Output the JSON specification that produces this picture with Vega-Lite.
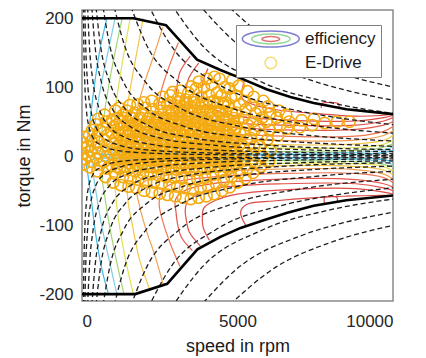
{
  "$schema": "https://vega.github.io/schema/vega-lite/v6.json",
  "width": 311,
  "height": 291,
  "autosize": {"type": "none"},
  "padding": {"left": 82, "top": 10, "right": 33, "bottom": 57},
  "background": "white",
  "config": {
    "view": {"stroke": "#8a8a8a", "strokeWidth": 1.5},
    "axis": {"domain": false, "ticks": false, "grid": false, "labelFont": "Liberation Sans", "labelFontSize": 17, "labelColor": "#262626", "titleFont": "Liberation Sans", "titleFontSize": 18, "titleFontWeight": "normal", "titleColor": "#1a1a1a"},
    "legend": {"labelFont": "Liberation Sans"}
  },
  "resolve": {"scale": {"stroke": "independent"}},
  "datasets": {
    "env": [
      {"s":"u","n":0,"t":200},{"s":"u","n":1650,"t":200},{"s":"u","n":2700,"t":190},{"s":"u","n":3700,"t":140},{"s":"u","n":4450,"t":125},{"s":"u","n":5000,"t":115},{"s":"u","n":5935,"t":97},{"s":"u","n":6700,"t":86},{"s":"u","n":7450,"t":77},{"s":"u","n":8500,"t":68},{"s":"u","n":10000,"t":61},
      {"s":"d","n":0,"t":-200},{"s":"d","n":1710,"t":-200},{"s":"d","n":2740,"t":-185},{"s":"d","n":3710,"t":-135},{"s":"d","n":4450,"t":-117},{"s":"d","n":5100,"t":-104},{"s":"d","n":5840,"t":-93},{"s":"d","n":6600,"t":-82},{"s":"d","n":7450,"t":-72},{"s":"d","n":8500,"t":-64},{"s":"d","n":10000,"t":-57}
    ],
    "hyp": [
      {"p":"a1","n":40,"t":239},{"p":"a1","n":60,"t":159},{"p":"a1","n":90,"t":106},{"p":"a1","n":140,"t":68},{"p":"a1","n":220,"t":43},{"p":"a1","n":350,"t":27},{"p":"a1","n":600,"t":16},{"p":"a1","n":1000,"t":9.5},{"p":"a1","n":2000,"t":4.8},{"p":"a1","n":4000,"t":2.4},{"p":"a1","n":7000,"t":1.4},{"p":"a1","n":10000,"t":0.95},
      {"p":"a2","n":80,"t":239},{"p":"a2","n":120,"t":159},{"p":"a2","n":180,"t":106},{"p":"a2","n":280,"t":68},{"p":"a2","n":440,"t":43},{"p":"a2","n":700,"t":27},{"p":"a2","n":1200,"t":16},{"p":"a2","n":2000,"t":9.5},{"p":"a2","n":4000,"t":4.8},{"p":"a2","n":7000,"t":2.7},{"p":"a2","n":10000,"t":1.9},
      {"p":"a4","n":160,"t":239},{"p":"a4","n":240,"t":159},{"p":"a4","n":360,"t":106},{"p":"a4","n":560,"t":68},{"p":"a4","n":880,"t":43},{"p":"a4","n":1400,"t":27},{"p":"a4","n":2400,"t":16},{"p":"a4","n":4000,"t":9.5},{"p":"a4","n":7000,"t":5.5},{"p":"a4","n":10000,"t":3.8},
      {"p":"a7","n":280,"t":239},{"p":"a7","n":420,"t":159},{"p":"a7","n":630,"t":106},{"p":"a7","n":980,"t":68},{"p":"a7","n":1550,"t":43},{"p":"a7","n":2450,"t":27},{"p":"a7","n":4200,"t":16},{"p":"a7","n":7000,"t":9.5},{"p":"a7","n":10000,"t":6.7},
      {"p":"a10","n":400,"t":239},{"p":"a10","n":600,"t":159},{"p":"a10","n":900,"t":106},{"p":"a10","n":1400,"t":68},{"p":"a10","n":2200,"t":43},{"p":"a10","n":3500,"t":27},{"p":"a10","n":6000,"t":16},{"p":"a10","n":10000,"t":9.5},
      {"p":"a15","n":600,"t":239},{"p":"a15","n":900,"t":159},{"p":"a15","n":1350,"t":106},{"p":"a15","n":2100,"t":68},{"p":"a15","n":3300,"t":43},{"p":"a15","n":5300,"t":27},{"p":"a15","n":7500,"t":19.1},{"p":"a15","n":10000,"t":14.3},
      {"p":"a23","n":920,"t":239},{"p":"a23","n":1380,"t":159},{"p":"a23","n":2070,"t":106},{"p":"a23","n":3200,"t":68.6},{"p":"a23","n":5000,"t":43.9},{"p":"a23","n":7500,"t":29.3},{"p":"a23","n":10000,"t":22},
      {"p":"a35","n":1400,"t":239},{"p":"a35","n":2100,"t":159},{"p":"a35","n":3150,"t":106},{"p":"a35","n":4900,"t":68.2},{"p":"a35","n":7000,"t":47.7},{"p":"a35","n":10000,"t":33.4},
      {"p":"a48","n":1900,"t":241},{"p":"a48","n":2900,"t":158},{"p":"a48","n":4300,"t":106.6},{"p":"a48","n":6500,"t":70.5},{"p":"a48","n":8000,"t":57.3},{"p":"a48","n":10000,"t":45.8},
      {"p":"a65","n":2600,"t":239},{"p":"a65","n":3900,"t":159},{"p":"a65","n":5800,"t":107},{"p":"a65","n":8000,"t":77.6},{"p":"a65","n":10000,"t":62.1},
      {"p":"a85","n":3400,"t":239},{"p":"a85","n":5100,"t":159},{"p":"a85","n":7000,"t":116},{"p":"a85","n":8500,"t":95.5},{"p":"a85","n":10000,"t":81.2},
      {"p":"a105","n":4200,"t":239},{"p":"a105","n":6300,"t":159},{"p":"a105","n":8000,"t":125},{"p":"a105","n":10000,"t":100.3},
      {"p":"b1","n":40,"t":-239},{"p":"b1","n":60,"t":-159},{"p":"b1","n":90,"t":-106},{"p":"b1","n":140,"t":-68},{"p":"b1","n":220,"t":-43},{"p":"b1","n":350,"t":-27},{"p":"b1","n":600,"t":-16},{"p":"b1","n":1000,"t":-9.5},{"p":"b1","n":2000,"t":-4.8},{"p":"b1","n":4000,"t":-2.4},{"p":"b1","n":7000,"t":-1.4},{"p":"b1","n":10000,"t":-0.95},
      {"p":"b2","n":80,"t":-239},{"p":"b2","n":120,"t":-159},{"p":"b2","n":180,"t":-106},{"p":"b2","n":280,"t":-68},{"p":"b2","n":440,"t":-43},{"p":"b2","n":700,"t":-27},{"p":"b2","n":1200,"t":-16},{"p":"b2","n":2000,"t":-9.5},{"p":"b2","n":4000,"t":-4.8},{"p":"b2","n":7000,"t":-2.7},{"p":"b2","n":10000,"t":-1.9},
      {"p":"b4","n":160,"t":-239},{"p":"b4","n":240,"t":-159},{"p":"b4","n":360,"t":-106},{"p":"b4","n":560,"t":-68},{"p":"b4","n":880,"t":-43},{"p":"b4","n":1400,"t":-27},{"p":"b4","n":2400,"t":-16},{"p":"b4","n":4000,"t":-9.5},{"p":"b4","n":7000,"t":-5.5},{"p":"b4","n":10000,"t":-3.8},
      {"p":"b7","n":280,"t":-239},{"p":"b7","n":420,"t":-159},{"p":"b7","n":630,"t":-106},{"p":"b7","n":980,"t":-68},{"p":"b7","n":1550,"t":-43},{"p":"b7","n":2450,"t":-27},{"p":"b7","n":4200,"t":-16},{"p":"b7","n":7000,"t":-9.5},{"p":"b7","n":10000,"t":-6.7},
      {"p":"b10","n":400,"t":-239},{"p":"b10","n":600,"t":-159},{"p":"b10","n":900,"t":-106},{"p":"b10","n":1400,"t":-68},{"p":"b10","n":2200,"t":-43},{"p":"b10","n":3500,"t":-27},{"p":"b10","n":6000,"t":-16},{"p":"b10","n":10000,"t":-9.5},
      {"p":"b15","n":600,"t":-239},{"p":"b15","n":900,"t":-159},{"p":"b15","n":1350,"t":-106},{"p":"b15","n":2100,"t":-68},{"p":"b15","n":3300,"t":-43},{"p":"b15","n":5300,"t":-27},{"p":"b15","n":7500,"t":-19.1},{"p":"b15","n":10000,"t":-14.3},
      {"p":"b23","n":920,"t":-239},{"p":"b23","n":1380,"t":-159},{"p":"b23","n":2070,"t":-106},{"p":"b23","n":3200,"t":-68.6},{"p":"b23","n":5000,"t":-43.9},{"p":"b23","n":7500,"t":-29.3},{"p":"b23","n":10000,"t":-22},
      {"p":"b35","n":1400,"t":-239},{"p":"b35","n":2100,"t":-159},{"p":"b35","n":3150,"t":-106},{"p":"b35","n":4900,"t":-68.2},{"p":"b35","n":7000,"t":-47.7},{"p":"b35","n":10000,"t":-33.4},
      {"p":"b48","n":1900,"t":-241},{"p":"b48","n":2900,"t":-158},{"p":"b48","n":4300,"t":-106.6},{"p":"b48","n":6500,"t":-70.5},{"p":"b48","n":8000,"t":-57.3},{"p":"b48","n":10000,"t":-45.8},
      {"p":"b65","n":2600,"t":-239},{"p":"b65","n":3900,"t":-159},{"p":"b65","n":5800,"t":-107},{"p":"b65","n":8000,"t":-77.6},{"p":"b65","n":10000,"t":-62.1},
      {"p":"b85","n":3400,"t":-239},{"p":"b85","n":5100,"t":-159},{"p":"b85","n":7000,"t":-116},{"p":"b85","n":8500,"t":-95.5},{"p":"b85","n":10000,"t":-81.2},
      {"p":"b105","n":4200,"t":-239},{"p":"b105","n":6300,"t":-159},{"p":"b105","n":8000,"t":-125},{"p":"b105","n":10000,"t":-100.3}
    ],
    "con": [
      {"c":"1u","l":1,"n":800,"t":200},{"c":"1u","l":1,"n":600,"t":160},{"c":"1u","l":1,"n":420,"t":110},{"c":"1u","l":1,"n":280,"t":60},{"c":"1u","l":1,"n":180,"t":25},{"c":"1u","l":1,"n":150,"t":10},{"c":"1u","l":1,"n":400,"t":4},{"c":"1u","l":1,"n":1500,"t":2.5},{"c":"1u","l":1,"n":5000,"t":2},{"c":"1u","l":1,"n":8000,"t":2.5},{"c":"1u","l":1,"n":9500,"t":4},{"c":"1u","l":1,"n":10000,"t":8},
      {"c":"1d","l":1,"n":850,"t":-200},{"c":"1d","l":1,"n":620,"t":-160},{"c":"1d","l":1,"n":430,"t":-110},{"c":"1d","l":1,"n":290,"t":-60},{"c":"1d","l":1,"n":185,"t":-25},{"c":"1d","l":1,"n":150,"t":-10},{"c":"1d","l":1,"n":400,"t":-4},{"c":"1d","l":1,"n":1500,"t":-2.5},{"c":"1d","l":1,"n":5000,"t":-2},{"c":"1d","l":1,"n":8000,"t":-2.5},{"c":"1d","l":1,"n":9500,"t":-4},{"c":"1d","l":1,"n":10000,"t":-8},
      {"c":"2u","l":2,"n":1065,"t":200},{"c":"2u","l":2,"n":830,"t":150},{"c":"2u","l":2,"n":600,"t":100},{"c":"2u","l":2,"n":440,"t":55},{"c":"2u","l":2,"n":350,"t":25},{"c":"2u","l":2,"n":330,"t":12},{"c":"2u","l":2,"n":700,"t":7},{"c":"2u","l":2,"n":3000,"t":5},{"c":"2u","l":2,"n":8000,"t":5},{"c":"2u","l":2,"n":9500,"t":7.5},{"c":"2u","l":2,"n":10000,"t":13},
      {"c":"2d","l":2,"n":1120,"t":-200},{"c":"2d","l":2,"n":870,"t":-150},{"c":"2d","l":2,"n":630,"t":-100},{"c":"2d","l":2,"n":460,"t":-55},{"c":"2d","l":2,"n":360,"t":-25},{"c":"2d","l":2,"n":340,"t":-12},{"c":"2d","l":2,"n":700,"t":-7},{"c":"2d","l":2,"n":3000,"t":-4.5},{"c":"2d","l":2,"n":8000,"t":-4.5},{"c":"2d","l":2,"n":9500,"t":-7},{"c":"2d","l":2,"n":10000,"t":-12},
      {"c":"3u","l":3,"n":1290,"t":200},{"c":"3u","l":3,"n":1060,"t":150},{"c":"3u","l":3,"n":850,"t":100},{"c":"3u","l":3,"n":700,"t":55},{"c":"3u","l":3,"n":640,"t":30},{"c":"3u","l":3,"n":750,"t":16},{"c":"3u","l":3,"n":1500,"t":10},{"c":"3u","l":3,"n":4000,"t":7.5},{"c":"3u","l":3,"n":8000,"t":7.5},{"c":"3u","l":3,"n":9500,"t":11},{"c":"3u","l":3,"n":10000,"t":18},
      {"c":"3d","l":3,"n":1350,"t":-200},{"c":"3d","l":3,"n":1100,"t":-150},{"c":"3d","l":3,"n":880,"t":-100},{"c":"3d","l":3,"n":720,"t":-55},{"c":"3d","l":3,"n":650,"t":-30},{"c":"3d","l":3,"n":760,"t":-15},{"c":"3d","l":3,"n":1500,"t":-9},{"c":"3d","l":3,"n":4000,"t":-7},{"c":"3d","l":3,"n":8000,"t":-7},{"c":"3d","l":3,"n":9500,"t":-10},{"c":"3d","l":3,"n":10000,"t":-16},
      {"c":"4u","l":4,"n":1550,"t":200},{"c":"4u","l":4,"n":1350,"t":150},{"c":"4u","l":4,"n":1170,"t":100},{"c":"4u","l":4,"n":1060,"t":60},{"c":"4u","l":4,"n":1060,"t":38},{"c":"4u","l":4,"n":1300,"t":24},{"c":"4u","l":4,"n":2500,"t":15},{"c":"4u","l":4,"n":6000,"t":12},{"c":"4u","l":4,"n":8500,"t":12},{"c":"4u","l":4,"n":9600,"t":16},{"c":"4u","l":4,"n":10000,"t":23},
      {"c":"4d","l":4,"n":1650,"t":-200},{"c":"4d","l":4,"n":1400,"t":-150},{"c":"4d","l":4,"n":1200,"t":-100},{"c":"4d","l":4,"n":1090,"t":-60},{"c":"4d","l":4,"n":1080,"t":-36},{"c":"4d","l":4,"n":1320,"t":-22},{"c":"4d","l":4,"n":2500,"t":-13},{"c":"4d","l":4,"n":6000,"t":-10.5},{"c":"4d","l":4,"n":8500,"t":-10.5},{"c":"4d","l":4,"n":9600,"t":-14},{"c":"4d","l":4,"n":10000,"t":-21},
      {"c":"5u","l":5,"n":1970,"t":200},{"c":"5u","l":5,"n":1760,"t":150},{"c":"5u","l":5,"n":1560,"t":100},{"c":"5u","l":5,"n":1440,"t":65},{"c":"5u","l":5,"n":1460,"t":44},{"c":"5u","l":5,"n":1850,"t":30},{"c":"5u","l":5,"n":3000,"t":21},{"c":"5u","l":5,"n":6000,"t":17},{"c":"5u","l":5,"n":8500,"t":17},{"c":"5u","l":5,"n":9700,"t":23},{"c":"5u","l":5,"n":10000,"t":30},
      {"c":"5d","l":5,"n":2190,"t":-195},{"c":"5d","l":5,"n":1850,"t":-150},{"c":"5d","l":5,"n":1620,"t":-100},{"c":"5d","l":5,"n":1480,"t":-65},{"c":"5d","l":5,"n":1490,"t":-42},{"c":"5d","l":5,"n":1880,"t":-27},{"c":"5d","l":5,"n":3000,"t":-17},{"c":"5d","l":5,"n":6000,"t":-14},{"c":"5d","l":5,"n":8500,"t":-14},{"c":"5d","l":5,"n":9700,"t":-20},{"c":"5d","l":5,"n":10000,"t":-27},
      {"c":"6u","l":6,"n":2600,"t":187},{"c":"6u","l":6,"n":2300,"t":145},{"c":"6u","l":6,"n":2000,"t":105},{"c":"6u","l":6,"n":1800,"t":72},{"c":"6u","l":6,"n":1750,"t":52},{"c":"6u","l":6,"n":2050,"t":38},{"c":"6u","l":6,"n":3000,"t":30},{"c":"6u","l":6,"n":6000,"t":23},{"c":"6u","l":6,"n":8700,"t":23},{"c":"6u","l":6,"n":9700,"t":30},{"c":"6u","l":6,"n":10000,"t":37},
      {"c":"6d","l":6,"n":2610,"t":-186},{"c":"6d","l":6,"n":2350,"t":-145},{"c":"6d","l":6,"n":2050,"t":-105},{"c":"6d","l":6,"n":1850,"t":-72},{"c":"6d","l":6,"n":1780,"t":-50},{"c":"6d","l":6,"n":2080,"t":-35},{"c":"6d","l":6,"n":3000,"t":-26},{"c":"6d","l":6,"n":6000,"t":-19},{"c":"6d","l":6,"n":8700,"t":-19},{"c":"6d","l":6,"n":9700,"t":-26},{"c":"6d","l":6,"n":10000,"t":-33},
      {"c":"7u","l":7,"n":3100,"t":165},{"c":"7u","l":7,"n":2800,"t":130},{"c":"7u","l":7,"n":2550,"t":95},{"c":"7u","l":7,"n":2450,"t":68},{"c":"7u","l":7,"n":2550,"t":52},{"c":"7u","l":7,"n":3000,"t":42},{"c":"7u","l":7,"n":4000,"t":35},{"c":"7u","l":7,"n":6500,"t":29},{"c":"7u","l":7,"n":8800,"t":29},{"c":"7u","l":7,"n":9700,"t":36},{"c":"7u","l":7,"n":10000,"t":43},
      {"c":"7d","l":7,"n":3150,"t":-160},{"c":"7d","l":7,"n":2850,"t":-128},{"c":"7d","l":7,"n":2600,"t":-95},{"c":"7d","l":7,"n":2480,"t":-68},{"c":"7d","l":7,"n":2580,"t":-50},{"c":"7d","l":7,"n":3000,"t":-38},{"c":"7d","l":7,"n":4000,"t":-31},{"c":"7d","l":7,"n":6500,"t":-25},{"c":"7d","l":7,"n":8800,"t":-25},{"c":"7d","l":7,"n":9700,"t":-31},{"c":"7d","l":7,"n":10000,"t":-38},
      {"c":"8u","l":8,"n":3480,"t":145},{"c":"8u","l":8,"n":3150,"t":122},{"c":"8u","l":8,"n":3050,"t":100},{"c":"8u","l":8,"n":3000,"t":80},{"c":"8u","l":8,"n":2980,"t":66},{"c":"8u","l":8,"n":3200,"t":55},{"c":"8u","l":8,"n":3900,"t":46},{"c":"8u","l":8,"n":6000,"t":39},{"c":"8u","l":8,"n":8800,"t":39},{"c":"8u","l":8,"n":9700,"t":45},{"c":"8u","l":8,"n":10000,"t":50},
      {"c":"8d","l":8,"n":3550,"t":-137},{"c":"8d","l":8,"n":3200,"t":-118},{"c":"8d","l":8,"n":3080,"t":-100},{"c":"8d","l":8,"n":3020,"t":-80},{"c":"8d","l":8,"n":3000,"t":-64},{"c":"8d","l":8,"n":3220,"t":-52},{"c":"8d","l":8,"n":3900,"t":-42},{"c":"8d","l":8,"n":6000,"t":-34},{"c":"8d","l":8,"n":8800,"t":-34},{"c":"8d","l":8,"n":9700,"t":-40},{"c":"8d","l":8,"n":10000,"t":-45},
      {"c":"9u","l":9,"n":3750,"t":135},{"c":"9u","l":9,"n":3420,"t":112},{"c":"9u","l":9,"n":3340,"t":95},{"c":"9u","l":9,"n":3300,"t":80},{"c":"9u","l":9,"n":3380,"t":68},{"c":"9u","l":9,"n":3750,"t":58},{"c":"9u","l":9,"n":4400,"t":50},{"c":"9u","l":9,"n":6500,"t":45},{"c":"9u","l":9,"n":8800,"t":45},{"c":"9u","l":9,"n":9700,"t":51},{"c":"9u","l":9,"n":10000,"t":56},
      {"c":"9d","l":9,"n":3800,"t":-130},{"c":"9d","l":9,"n":3450,"t":-110},{"c":"9d","l":9,"n":3360,"t":-94},{"c":"9d","l":9,"n":3320,"t":-78},{"c":"9d","l":9,"n":3400,"t":-65},{"c":"9d","l":9,"n":3750,"t":-55},{"c":"9d","l":9,"n":4400,"t":-46},{"c":"9d","l":9,"n":6500,"t":-40},{"c":"9d","l":9,"n":8800,"t":-40},{"c":"9d","l":9,"n":9700,"t":-46},{"c":"9d","l":9,"n":10000,"t":-50},
      {"c":"10u","l":10,"n":4050,"t":127},{"c":"10u","l":10,"n":3880,"t":108},{"c":"10u","l":10,"n":3850,"t":90},{"c":"10u","l":10,"n":3900,"t":78},{"c":"10u","l":10,"n":4300,"t":67},{"c":"10u","l":10,"n":5000,"t":58},{"c":"10u","l":10,"n":6800,"t":52},{"c":"10u","l":10,"n":8800,"t":51},{"c":"10u","l":10,"n":9700,"t":56},{"c":"10u","l":10,"n":10000,"t":59},
      {"c":"10d","l":10,"n":4100,"t":-122},{"c":"10d","l":10,"n":3900,"t":-104},{"c":"10d","l":10,"n":3870,"t":-88},{"c":"10d","l":10,"n":3920,"t":-75},{"c":"10d","l":10,"n":4300,"t":-64},{"c":"10d","l":10,"n":5000,"t":-55},{"c":"10d","l":10,"n":6800,"t":-48},{"c":"10d","l":10,"n":8800,"t":-47},{"c":"10d","l":10,"n":9700,"t":-52},{"c":"10d","l":10,"n":10000,"t":-55},
      {"c":"11u","l":11,"n":5230,"t":112},{"c":"11u","l":11,"n":5150,"t":95},{"c":"11u","l":11,"n":5150,"t":84},{"c":"11u","l":11,"n":5500,"t":75},{"c":"11u","l":11,"n":6300,"t":67},{"c":"11u","l":11,"n":7500,"t":62},{"c":"11u","l":11,"n":8800,"t":58},{"c":"11u","l":11,"n":9600,"t":59},{"c":"11u","l":11,"n":10000,"t":61},
      {"c":"11d","l":11,"n":5260,"t":-100},{"c":"11d","l":11,"n":5100,"t":-81},{"c":"11d","l":11,"n":5290,"t":-70},{"c":"11d","l":11,"n":6160,"t":-65},{"c":"11d","l":11,"n":7500,"t":-60},{"c":"11d","l":11,"n":8500,"t":-58},{"c":"11d","l":11,"n":9400,"t":-57},{"c":"11d","l":11,"n":10000,"t":-57},
      {"c":"ru","l":11,"n":7700,"t":70},{"c":"ru","l":11,"n":7700,"t":76},{"c":"ru","l":11,"n":8250,"t":76},{"c":"ru","l":11,"n":8250,"t":69},
      {"c":"rd","l":11,"n":7800,"t":-68},{"c":"rd","l":11,"n":7800,"t":-60},{"c":"rd","l":11,"n":8200,"t":-60},{"c":"rd","l":11,"n":8200,"t":-67}
    ],
    "pts": [
      {"n":50,"t":-12,"k":"E-Drive"},{"n":90,"t":-4,"k":"E-Drive"},{"n":20,"t":4,"k":"E-Drive"},{"n":70,"t":12,"k":"E-Drive"},{"n":30,"t":20,"k":"E-Drive"},{"n":80,"t":28,"k":"E-Drive"},
      {"n":250,"t":-16,"k":"E-Drive"},{"n":310,"t":-8,"k":"E-Drive"},{"n":210,"t":0,"k":"E-Drive"},{"n":280,"t":7,"k":"E-Drive"},{"n":180,"t":14,"k":"E-Drive"},{"n":300,"t":22,"k":"E-Drive"},{"n":230,"t":30,"k":"E-Drive"},{"n":330,"t":38,"k":"E-Drive"},
      {"n":500,"t":-22,"k":"E-Drive"},{"n":560,"t":-12,"k":"E-Drive"},{"n":460,"t":-3,"k":"E-Drive"},{"n":530,"t":5,"k":"E-Drive"},{"n":430,"t":12,"k":"E-Drive"},{"n":550,"t":20,"k":"E-Drive"},{"n":480,"t":28,"k":"E-Drive"},{"n":580,"t":37,"k":"E-Drive"},{"n":450,"t":46,"k":"E-Drive"},{"n":520,"t":54,"k":"E-Drive"},
      {"n":750,"t":-30,"k":"E-Drive"},{"n":810,"t":-18,"k":"E-Drive"},{"n":710,"t":-8,"k":"E-Drive"},{"n":780,"t":0,"k":"E-Drive"},{"n":680,"t":8,"k":"E-Drive"},{"n":800,"t":15,"k":"E-Drive"},{"n":730,"t":23,"k":"E-Drive"},{"n":830,"t":31,"k":"E-Drive"},{"n":700,"t":40,"k":"E-Drive"},{"n":770,"t":50,"k":"E-Drive"},{"n":720,"t":60,"k":"E-Drive"},
      {"n":1000,"t":-38,"k":"E-Drive"},{"n":1060,"t":-25,"k":"E-Drive"},{"n":960,"t":-14,"k":"E-Drive"},{"n":1030,"t":-5,"k":"E-Drive"},{"n":930,"t":3,"k":"E-Drive"},{"n":1050,"t":10,"k":"E-Drive"},{"n":980,"t":18,"k":"E-Drive"},{"n":1080,"t":26,"k":"E-Drive"},{"n":950,"t":34,"k":"E-Drive"},{"n":1020,"t":43,"k":"E-Drive"},{"n":970,"t":53,"k":"E-Drive"},{"n":1070,"t":66,"k":"E-Drive"},
      {"n":1250,"t":-42,"k":"E-Drive"},{"n":1310,"t":-30,"k":"E-Drive"},{"n":1210,"t":-18,"k":"E-Drive"},{"n":1280,"t":-8,"k":"E-Drive"},{"n":1180,"t":0,"k":"E-Drive"},{"n":1300,"t":8,"k":"E-Drive"},{"n":1230,"t":16,"k":"E-Drive"},{"n":1330,"t":24,"k":"E-Drive"},{"n":1200,"t":32,"k":"E-Drive"},{"n":1270,"t":41,"k":"E-Drive"},{"n":1220,"t":50,"k":"E-Drive"},{"n":1320,"t":60,"k":"E-Drive"},{"n":1190,"t":70,"k":"E-Drive"},
      {"n":1500,"t":-44,"k":"E-Drive"},{"n":1560,"t":-32,"k":"E-Drive"},{"n":1460,"t":-20,"k":"E-Drive"},{"n":1530,"t":-10,"k":"E-Drive"},{"n":1430,"t":-2,"k":"E-Drive"},{"n":1550,"t":6,"k":"E-Drive"},{"n":1480,"t":13,"k":"E-Drive"},{"n":1580,"t":21,"k":"E-Drive"},{"n":1450,"t":29,"k":"E-Drive"},{"n":1520,"t":37,"k":"E-Drive"},{"n":1470,"t":46,"k":"E-Drive"},{"n":1570,"t":56,"k":"E-Drive"},{"n":1440,"t":66,"k":"E-Drive"},{"n":1540,"t":74,"k":"E-Drive"},
      {"n":1750,"t":-46,"k":"E-Drive"},{"n":1810,"t":-34,"k":"E-Drive"},{"n":1710,"t":-22,"k":"E-Drive"},{"n":1780,"t":-12,"k":"E-Drive"},{"n":1680,"t":-3,"k":"E-Drive"},{"n":1800,"t":5,"k":"E-Drive"},{"n":1730,"t":12,"k":"E-Drive"},{"n":1830,"t":20,"k":"E-Drive"},{"n":1700,"t":28,"k":"E-Drive"},{"n":1770,"t":36,"k":"E-Drive"},{"n":1720,"t":44,"k":"E-Drive"},{"n":1820,"t":53,"k":"E-Drive"},{"n":1690,"t":63,"k":"E-Drive"},{"n":1790,"t":75,"k":"E-Drive"},
      {"n":2000,"t":-50,"k":"E-Drive"},{"n":2060,"t":-37,"k":"E-Drive"},{"n":1960,"t":-25,"k":"E-Drive"},{"n":2030,"t":-14,"k":"E-Drive"},{"n":1930,"t":-5,"k":"E-Drive"},{"n":2050,"t":3,"k":"E-Drive"},{"n":1980,"t":10,"k":"E-Drive"},{"n":2080,"t":18,"k":"E-Drive"},{"n":1950,"t":26,"k":"E-Drive"},{"n":2020,"t":34,"k":"E-Drive"},{"n":1970,"t":42,"k":"E-Drive"},{"n":2070,"t":50,"k":"E-Drive"},{"n":1940,"t":60,"k":"E-Drive"},{"n":2040,"t":70,"k":"E-Drive"},{"n":1990,"t":78,"k":"E-Drive"},
      {"n":2250,"t":-52,"k":"E-Drive"},{"n":2310,"t":-38,"k":"E-Drive"},{"n":2210,"t":-26,"k":"E-Drive"},{"n":2280,"t":-16,"k":"E-Drive"},{"n":2180,"t":-6,"k":"E-Drive"},{"n":2300,"t":2,"k":"E-Drive"},{"n":2230,"t":9,"k":"E-Drive"},{"n":2330,"t":17,"k":"E-Drive"},{"n":2200,"t":25,"k":"E-Drive"},{"n":2270,"t":33,"k":"E-Drive"},{"n":2220,"t":41,"k":"E-Drive"},{"n":2320,"t":49,"k":"E-Drive"},{"n":2190,"t":58,"k":"E-Drive"},{"n":2290,"t":68,"k":"E-Drive"},{"n":2240,"t":80,"k":"E-Drive"},
      {"n":2500,"t":-54,"k":"E-Drive"},{"n":2560,"t":-40,"k":"E-Drive"},{"n":2460,"t":-28,"k":"E-Drive"},{"n":2530,"t":-17,"k":"E-Drive"},{"n":2430,"t":-7,"k":"E-Drive"},{"n":2550,"t":1,"k":"E-Drive"},{"n":2480,"t":9,"k":"E-Drive"},{"n":2580,"t":16,"k":"E-Drive"},{"n":2450,"t":24,"k":"E-Drive"},{"n":2520,"t":32,"k":"E-Drive"},{"n":2470,"t":40,"k":"E-Drive"},{"n":2570,"t":48,"k":"E-Drive"},{"n":2440,"t":57,"k":"E-Drive"},{"n":2540,"t":66,"k":"E-Drive"},{"n":2490,"t":76,"k":"E-Drive"},{"n":2590,"t":86,"k":"E-Drive"},
      {"n":2750,"t":-56,"k":"E-Drive"},{"n":2810,"t":-42,"k":"E-Drive"},{"n":2710,"t":-30,"k":"E-Drive"},{"n":2780,"t":-18,"k":"E-Drive"},{"n":2680,"t":-8,"k":"E-Drive"},{"n":2800,"t":0,"k":"E-Drive"},{"n":2730,"t":8,"k":"E-Drive"},{"n":2830,"t":15,"k":"E-Drive"},{"n":2700,"t":23,"k":"E-Drive"},{"n":2770,"t":31,"k":"E-Drive"},{"n":2720,"t":39,"k":"E-Drive"},{"n":2820,"t":47,"k":"E-Drive"},{"n":2690,"t":56,"k":"E-Drive"},{"n":2790,"t":65,"k":"E-Drive"},{"n":2740,"t":75,"k":"E-Drive"},{"n":2840,"t":88,"k":"E-Drive"},
      {"n":3000,"t":-58,"k":"E-Drive"},{"n":3060,"t":-44,"k":"E-Drive"},{"n":2960,"t":-31,"k":"E-Drive"},{"n":3030,"t":-19,"k":"E-Drive"},{"n":2930,"t":-9,"k":"E-Drive"},{"n":3050,"t":0,"k":"E-Drive"},{"n":2980,"t":7,"k":"E-Drive"},{"n":3080,"t":15,"k":"E-Drive"},{"n":2950,"t":22,"k":"E-Drive"},{"n":3020,"t":30,"k":"E-Drive"},{"n":2970,"t":38,"k":"E-Drive"},{"n":3070,"t":46,"k":"E-Drive"},{"n":2940,"t":55,"k":"E-Drive"},{"n":3040,"t":64,"k":"E-Drive"},{"n":2990,"t":74,"k":"E-Drive"},{"n":3090,"t":84,"k":"E-Drive"},{"n":2920,"t":93,"k":"E-Drive"},
      {"n":3250,"t":-60,"k":"E-Drive"},{"n":3310,"t":-46,"k":"E-Drive"},{"n":3210,"t":-32,"k":"E-Drive"},{"n":3280,"t":-20,"k":"E-Drive"},{"n":3180,"t":-10,"k":"E-Drive"},{"n":3300,"t":-1,"k":"E-Drive"},{"n":3230,"t":7,"k":"E-Drive"},{"n":3330,"t":14,"k":"E-Drive"},{"n":3200,"t":22,"k":"E-Drive"},{"n":3270,"t":30,"k":"E-Drive"},{"n":3220,"t":38,"k":"E-Drive"},{"n":3320,"t":46,"k":"E-Drive"},{"n":3190,"t":54,"k":"E-Drive"},{"n":3290,"t":63,"k":"E-Drive"},{"n":3240,"t":72,"k":"E-Drive"},{"n":3340,"t":82,"k":"E-Drive"},{"n":3170,"t":95,"k":"E-Drive"},
      {"n":3500,"t":-62,"k":"E-Drive"},{"n":3560,"t":-48,"k":"E-Drive"},{"n":3460,"t":-34,"k":"E-Drive"},{"n":3530,"t":-21,"k":"E-Drive"},{"n":3430,"t":-10,"k":"E-Drive"},{"n":3550,"t":-1,"k":"E-Drive"},{"n":3480,"t":6,"k":"E-Drive"},{"n":3580,"t":14,"k":"E-Drive"},{"n":3450,"t":22,"k":"E-Drive"},{"n":3520,"t":30,"k":"E-Drive"},{"n":3470,"t":38,"k":"E-Drive"},{"n":3570,"t":46,"k":"E-Drive"},{"n":3440,"t":54,"k":"E-Drive"},{"n":3540,"t":63,"k":"E-Drive"},{"n":3490,"t":72,"k":"E-Drive"},{"n":3590,"t":82,"k":"E-Drive"},{"n":3420,"t":92,"k":"E-Drive"},{"n":3510,"t":101,"k":"E-Drive"},
      {"n":3750,"t":-60,"k":"E-Drive"},{"n":3810,"t":-46,"k":"E-Drive"},{"n":3710,"t":-33,"k":"E-Drive"},{"n":3780,"t":-20,"k":"E-Drive"},{"n":3680,"t":-9,"k":"E-Drive"},{"n":3800,"t":0,"k":"E-Drive"},{"n":3730,"t":7,"k":"E-Drive"},{"n":3830,"t":15,"k":"E-Drive"},{"n":3700,"t":23,"k":"E-Drive"},{"n":3770,"t":31,"k":"E-Drive"},{"n":3720,"t":39,"k":"E-Drive"},{"n":3820,"t":47,"k":"E-Drive"},{"n":3690,"t":56,"k":"E-Drive"},{"n":3790,"t":65,"k":"E-Drive"},{"n":3740,"t":75,"k":"E-Drive"},{"n":3840,"t":86,"k":"E-Drive"},{"n":3670,"t":98,"k":"E-Drive"},{"n":3760,"t":108,"k":"E-Drive"},
      {"n":4000,"t":-58,"k":"E-Drive"},{"n":4060,"t":-44,"k":"E-Drive"},{"n":3960,"t":-31,"k":"E-Drive"},{"n":4030,"t":-18,"k":"E-Drive"},{"n":3930,"t":-8,"k":"E-Drive"},{"n":4050,"t":1,"k":"E-Drive"},{"n":3980,"t":8,"k":"E-Drive"},{"n":4080,"t":16,"k":"E-Drive"},{"n":3950,"t":24,"k":"E-Drive"},{"n":4020,"t":32,"k":"E-Drive"},{"n":3970,"t":40,"k":"E-Drive"},{"n":4070,"t":48,"k":"E-Drive"},{"n":3940,"t":57,"k":"E-Drive"},{"n":4040,"t":66,"k":"E-Drive"},{"n":3990,"t":76,"k":"E-Drive"},{"n":4090,"t":88,"k":"E-Drive"},{"n":3920,"t":100,"k":"E-Drive"},{"n":4010,"t":112,"k":"E-Drive"},
      {"n":4250,"t":-55,"k":"E-Drive"},{"n":4310,"t":-40,"k":"E-Drive"},{"n":4210,"t":-27,"k":"E-Drive"},{"n":4280,"t":-15,"k":"E-Drive"},{"n":4180,"t":-5,"k":"E-Drive"},{"n":4300,"t":3,"k":"E-Drive"},{"n":4230,"t":10,"k":"E-Drive"},{"n":4330,"t":18,"k":"E-Drive"},{"n":4200,"t":26,"k":"E-Drive"},{"n":4270,"t":34,"k":"E-Drive"},{"n":4220,"t":42,"k":"E-Drive"},{"n":4320,"t":51,"k":"E-Drive"},{"n":4190,"t":60,"k":"E-Drive"},{"n":4290,"t":70,"k":"E-Drive"},{"n":4240,"t":80,"k":"E-Drive"},{"n":4340,"t":92,"k":"E-Drive"},{"n":4170,"t":104,"k":"E-Drive"},{"n":4260,"t":115,"k":"E-Drive"},
      {"n":4500,"t":-50,"k":"E-Drive"},{"n":4560,"t":-35,"k":"E-Drive"},{"n":4460,"t":-22,"k":"E-Drive"},{"n":4530,"t":-11,"k":"E-Drive"},{"n":4430,"t":-2,"k":"E-Drive"},{"n":4550,"t":6,"k":"E-Drive"},{"n":4480,"t":13,"k":"E-Drive"},{"n":4580,"t":21,"k":"E-Drive"},{"n":4450,"t":29,"k":"E-Drive"},{"n":4520,"t":37,"k":"E-Drive"},{"n":4470,"t":46,"k":"E-Drive"},{"n":4570,"t":55,"k":"E-Drive"},{"n":4440,"t":65,"k":"E-Drive"},{"n":4540,"t":76,"k":"E-Drive"},{"n":4490,"t":88,"k":"E-Drive"},{"n":4590,"t":100,"k":"E-Drive"},{"n":4420,"t":112,"k":"E-Drive"},
      {"n":4750,"t":-45,"k":"E-Drive"},{"n":4810,"t":-30,"k":"E-Drive"},{"n":4710,"t":-18,"k":"E-Drive"},{"n":4780,"t":-7,"k":"E-Drive"},{"n":4680,"t":2,"k":"E-Drive"},{"n":4800,"t":10,"k":"E-Drive"},{"n":4730,"t":18,"k":"E-Drive"},{"n":4830,"t":26,"k":"E-Drive"},{"n":4700,"t":34,"k":"E-Drive"},{"n":4770,"t":43,"k":"E-Drive"},{"n":4720,"t":52,"k":"E-Drive"},{"n":4820,"t":62,"k":"E-Drive"},{"n":4690,"t":73,"k":"E-Drive"},{"n":4790,"t":85,"k":"E-Drive"},{"n":4740,"t":98,"k":"E-Drive"},{"n":4840,"t":110,"k":"E-Drive"},
      {"n":5000,"t":-38,"k":"E-Drive"},{"n":5060,"t":-24,"k":"E-Drive"},{"n":4960,"t":-12,"k":"E-Drive"},{"n":5030,"t":-2,"k":"E-Drive"},{"n":4930,"t":6,"k":"E-Drive"},{"n":5050,"t":15,"k":"E-Drive"},{"n":4980,"t":24,"k":"E-Drive"},{"n":5080,"t":33,"k":"E-Drive"},{"n":4950,"t":42,"k":"E-Drive"},{"n":5020,"t":52,"k":"E-Drive"},{"n":4970,"t":63,"k":"E-Drive"},{"n":5070,"t":75,"k":"E-Drive"},{"n":4940,"t":88,"k":"E-Drive"},{"n":5040,"t":102,"k":"E-Drive"},
      {"n":5250,"t":-32,"k":"E-Drive"},{"n":5310,"t":-18,"k":"E-Drive"},{"n":5210,"t":-6,"k":"E-Drive"},{"n":5280,"t":4,"k":"E-Drive"},{"n":5180,"t":14,"k":"E-Drive"},{"n":5300,"t":24,"k":"E-Drive"},{"n":5230,"t":34,"k":"E-Drive"},{"n":5330,"t":45,"k":"E-Drive"},{"n":5200,"t":56,"k":"E-Drive"},{"n":5270,"t":68,"k":"E-Drive"},{"n":5220,"t":80,"k":"E-Drive"},{"n":5320,"t":94,"k":"E-Drive"},
      {"n":5500,"t":-24,"k":"E-Drive"},{"n":5560,"t":-10,"k":"E-Drive"},{"n":5460,"t":2,"k":"E-Drive"},{"n":5530,"t":14,"k":"E-Drive"},{"n":5430,"t":26,"k":"E-Drive"},{"n":5550,"t":38,"k":"E-Drive"},{"n":5480,"t":50,"k":"E-Drive"},{"n":5580,"t":62,"k":"E-Drive"},{"n":5450,"t":74,"k":"E-Drive"},{"n":5520,"t":86,"k":"E-Drive"},
      {"n":5750,"t":-15,"k":"E-Drive"},{"n":5810,"t":0,"k":"E-Drive"},{"n":5710,"t":15,"k":"E-Drive"},{"n":5780,"t":30,"k":"E-Drive"},{"n":5680,"t":44,"k":"E-Drive"},{"n":5800,"t":56,"k":"E-Drive"},{"n":5730,"t":68,"k":"E-Drive"},{"n":5830,"t":80,"k":"E-Drive"},
      {"n":6000,"t":-8,"k":"E-Drive"},{"n":6060,"t":8,"k":"E-Drive"},{"n":5960,"t":24,"k":"E-Drive"},{"n":6030,"t":38,"k":"E-Drive"},{"n":5930,"t":50,"k":"E-Drive"},{"n":6050,"t":62,"k":"E-Drive"},{"n":5980,"t":72,"k":"E-Drive"},
      {"n":6300,"t":30,"k":"E-Drive"},{"n":6360,"t":44,"k":"E-Drive"},{"n":6260,"t":56,"k":"E-Drive"},{"n":6330,"t":66,"k":"E-Drive"},
      {"n":6600,"t":40,"k":"E-Drive"},{"n":6660,"t":50,"k":"E-Drive"},{"n":6560,"t":60,"k":"E-Drive"},
      {"n":7000,"t":42,"k":"E-Drive"},{"n":7060,"t":52,"k":"E-Drive"},{"n":7400,"t":45,"k":"E-Drive"},{"n":7460,"t":54,"k":"E-Drive"},
      {"n":7800,"t":48,"k":"E-Drive"},{"n":8200,"t":50,"k":"E-Drive"},{"n":8600,"t":50,"k":"E-Drive"},
      {"n":1125,"t":-15,"k":"E-Drive"},{"n":1165,"t":-5,"k":"E-Drive"},{"n":1095,"t":5,"k":"E-Drive"},{"n":1145,"t":15,"k":"E-Drive"},{"n":1085,"t":25,"k":"E-Drive"},{"n":1155,"t":35,"k":"E-Drive"},{"n":1105,"t":45,"k":"E-Drive"},{"n":1135,"t":55,"k":"E-Drive"},
      {"n":1375,"t":-15,"k":"E-Drive"},{"n":1415,"t":-5,"k":"E-Drive"},{"n":1345,"t":5,"k":"E-Drive"},{"n":1395,"t":15,"k":"E-Drive"},{"n":1335,"t":25,"k":"E-Drive"},{"n":1405,"t":35,"k":"E-Drive"},{"n":1355,"t":45,"k":"E-Drive"},{"n":1385,"t":55,"k":"E-Drive"},
      {"n":1625,"t":-15,"k":"E-Drive"},{"n":1665,"t":-5,"k":"E-Drive"},{"n":1595,"t":5,"k":"E-Drive"},{"n":1645,"t":15,"k":"E-Drive"},{"n":1585,"t":25,"k":"E-Drive"},{"n":1655,"t":35,"k":"E-Drive"},{"n":1605,"t":45,"k":"E-Drive"},{"n":1635,"t":55,"k":"E-Drive"},
      {"n":1875,"t":-15,"k":"E-Drive"},{"n":1915,"t":-5,"k":"E-Drive"},{"n":1845,"t":5,"k":"E-Drive"},{"n":1895,"t":15,"k":"E-Drive"},{"n":1835,"t":25,"k":"E-Drive"},{"n":1905,"t":35,"k":"E-Drive"},{"n":1855,"t":45,"k":"E-Drive"},{"n":1885,"t":55,"k":"E-Drive"},
      {"n":2125,"t":-15,"k":"E-Drive"},{"n":2165,"t":-5,"k":"E-Drive"},{"n":2095,"t":5,"k":"E-Drive"},{"n":2145,"t":15,"k":"E-Drive"},{"n":2085,"t":25,"k":"E-Drive"},{"n":2155,"t":35,"k":"E-Drive"},{"n":2105,"t":45,"k":"E-Drive"},{"n":2135,"t":55,"k":"E-Drive"},
      {"n":2375,"t":-15,"k":"E-Drive"},{"n":2415,"t":-5,"k":"E-Drive"},{"n":2345,"t":5,"k":"E-Drive"},{"n":2395,"t":15,"k":"E-Drive"},{"n":2335,"t":25,"k":"E-Drive"},{"n":2405,"t":35,"k":"E-Drive"},{"n":2355,"t":45,"k":"E-Drive"},{"n":2385,"t":55,"k":"E-Drive"},
      {"n":2625,"t":-15,"k":"E-Drive"},{"n":2665,"t":-5,"k":"E-Drive"},{"n":2595,"t":5,"k":"E-Drive"},{"n":2645,"t":15,"k":"E-Drive"},{"n":2585,"t":25,"k":"E-Drive"},{"n":2655,"t":35,"k":"E-Drive"},{"n":2605,"t":45,"k":"E-Drive"},{"n":2635,"t":55,"k":"E-Drive"},
      {"n":2875,"t":-15,"k":"E-Drive"},{"n":2915,"t":-5,"k":"E-Drive"},{"n":2845,"t":5,"k":"E-Drive"},{"n":2895,"t":15,"k":"E-Drive"},{"n":2835,"t":25,"k":"E-Drive"},{"n":2905,"t":35,"k":"E-Drive"},{"n":2855,"t":45,"k":"E-Drive"},{"n":2885,"t":55,"k":"E-Drive"},{"n":2880,"t":65,"k":"E-Drive"},{"n":2860,"t":78,"k":"E-Drive"},
      {"n":3125,"t":-15,"k":"E-Drive"},{"n":3165,"t":-5,"k":"E-Drive"},{"n":3095,"t":5,"k":"E-Drive"},{"n":3145,"t":15,"k":"E-Drive"},{"n":3085,"t":25,"k":"E-Drive"},{"n":3155,"t":35,"k":"E-Drive"},{"n":3105,"t":45,"k":"E-Drive"},{"n":3135,"t":55,"k":"E-Drive"},{"n":3130,"t":65,"k":"E-Drive"},{"n":3110,"t":78,"k":"E-Drive"},
      {"n":3375,"t":-15,"k":"E-Drive"},{"n":3415,"t":-5,"k":"E-Drive"},{"n":3345,"t":5,"k":"E-Drive"},{"n":3395,"t":15,"k":"E-Drive"},{"n":3335,"t":25,"k":"E-Drive"},{"n":3405,"t":35,"k":"E-Drive"},{"n":3355,"t":45,"k":"E-Drive"},{"n":3385,"t":55,"k":"E-Drive"},{"n":3380,"t":65,"k":"E-Drive"},{"n":3360,"t":78,"k":"E-Drive"},
      {"n":3625,"t":-15,"k":"E-Drive"},{"n":3665,"t":-5,"k":"E-Drive"},{"n":3595,"t":5,"k":"E-Drive"},{"n":3645,"t":15,"k":"E-Drive"},{"n":3585,"t":25,"k":"E-Drive"},{"n":3655,"t":35,"k":"E-Drive"},{"n":3605,"t":45,"k":"E-Drive"},{"n":3635,"t":55,"k":"E-Drive"},{"n":3630,"t":65,"k":"E-Drive"},{"n":3610,"t":78,"k":"E-Drive"},
      {"n":3875,"t":-15,"k":"E-Drive"},{"n":3915,"t":-5,"k":"E-Drive"},{"n":3845,"t":5,"k":"E-Drive"},{"n":3895,"t":15,"k":"E-Drive"},{"n":3835,"t":25,"k":"E-Drive"},{"n":3905,"t":35,"k":"E-Drive"},{"n":3855,"t":45,"k":"E-Drive"},{"n":3885,"t":55,"k":"E-Drive"},{"n":3880,"t":65,"k":"E-Drive"},{"n":3860,"t":78,"k":"E-Drive"},
      {"n":4125,"t":-15,"k":"E-Drive"},{"n":4165,"t":-5,"k":"E-Drive"},{"n":4095,"t":5,"k":"E-Drive"},{"n":4145,"t":15,"k":"E-Drive"},{"n":4085,"t":25,"k":"E-Drive"},{"n":4155,"t":35,"k":"E-Drive"},{"n":4105,"t":45,"k":"E-Drive"},{"n":4135,"t":55,"k":"E-Drive"},{"n":4130,"t":65,"k":"E-Drive"},{"n":4110,"t":78,"k":"E-Drive"},
      {"n":4375,"t":-15,"k":"E-Drive"},{"n":4415,"t":-5,"k":"E-Drive"},{"n":4345,"t":5,"k":"E-Drive"},{"n":4395,"t":15,"k":"E-Drive"},{"n":4335,"t":25,"k":"E-Drive"},{"n":4405,"t":35,"k":"E-Drive"},{"n":4355,"t":45,"k":"E-Drive"},{"n":4385,"t":55,"k":"E-Drive"},{"n":4380,"t":65,"k":"E-Drive"},{"n":4360,"t":78,"k":"E-Drive"},
      {"n":4625,"t":-15,"k":"E-Drive"},{"n":4665,"t":-5,"k":"E-Drive"},{"n":4595,"t":5,"k":"E-Drive"},{"n":4645,"t":15,"k":"E-Drive"},{"n":4585,"t":25,"k":"E-Drive"},{"n":4655,"t":35,"k":"E-Drive"},{"n":4605,"t":45,"k":"E-Drive"},{"n":4635,"t":55,"k":"E-Drive"},{"n":4630,"t":65,"k":"E-Drive"},{"n":4610,"t":78,"k":"E-Drive"},
      {"n":4875,"t":-15,"k":"E-Drive"},{"n":4915,"t":-5,"k":"E-Drive"},{"n":4845,"t":5,"k":"E-Drive"},{"n":4895,"t":15,"k":"E-Drive"},{"n":4835,"t":25,"k":"E-Drive"},{"n":4905,"t":35,"k":"E-Drive"},{"n":4855,"t":45,"k":"E-Drive"},{"n":4885,"t":55,"k":"E-Drive"}
    ]
  },
  "encoding": {
    "x": {"field": "n", "type": "quantitative", "scale": {"domain": [0, 10000], "nice": false, "zero": false}, "axis": {"title": "speed in rpm", "values": [0, 5000, 10000], "labelExpr": "'' + datum.value", "labelPadding": 12, "titlePadding": 8}},
    "y": {"field": "t", "type": "quantitative", "scale": {"domain": [-210, 212], "nice": false, "zero": false}, "axis": {"title": "torque in Nm", "values": [-200, -100, 0, 100, 200], "labelExpr": "'' + datum.value", "labelPadding": 9, "titlePadding": 5}}
  },
  "layer": [
    {
      "data": {"name": "con"},
      "mark": {"type": "line", "strokeWidth": 1.2, "interpolate": "catmull-rom", "clip": true},
      "encoding": {
        "detail": {"field": "c", "type": "nominal"},
        "stroke": {"field": "l", "type": "ordinal", "scale": {"domain": [1,2,3,4,5,6,7,8,9,10,11], "range": ["#41bce3","#7dcfe0","#a3d774","#dfe053","#f3c748","#f1a054","#ec7552","#e5584c","#e2504a","#de4a46","#d94844"]}, "legend": null},
        "order": {"value": null}
      }
    },
    {
      "data": {"name": "pts"},
      "mark": {"type": "point", "filled": false, "size": 130, "strokeWidth": 1.6, "opacity": 1, "color": "#f4ab12", "clip": true}
    },
    {
      "data": {"name": "hyp"},
      "mark": {"type": "line", "strokeWidth": 1.3, "strokeDash": [5, 3], "color": "#1e1e1e", "interpolate": "monotone", "clip": true},
      "encoding": {"detail": {"field": "p", "type": "nominal"}, "order": {"value": null}}
    },
    {
      "data": {"name": "env"},
      "mark": {"type": "line", "strokeWidth": 2.6, "color": "#000000", "clip": true},
      "encoding": {"detail": {"field": "s", "type": "nominal"}, "order": {"value": null}}
    },
    {
      "data": {"name": "pts"},
      "transform": [{"filter": "datum.n < 0"}],
      "mark": {"type": "point", "filled": false, "strokeWidth": 1.5},
      "encoding": {
        "color": {"field": "k", "type": "nominal", "scale": {"domain": ["efficiency", "E-Drive"], "range": ["#4848c0", "#f2cc3a"]},
          "legend": {"title": null, "orient": "none", "legendX": 154, "legendY": 15, "direction": "vertical", "padding": 5, "strokeColor": "#808080", "fillColor": "white", "labelFontSize": 17, "labelColor": "#1a1a1a", "labelOffset": 46, "rowPadding": 4, "symbolSize": 256, "symbolStrokeWidth": 1.5}},
        "shape": {"field": "k", "type": "nominal", "scale": {"domain": ["efficiency", "E-Drive"], "range": ["M-0.96,0A3.56,1 0 1,0 6.16,0A3.56,1 0 1,0 -0.96,0", "M1.88,0A0.72,0.72 0 1,0 3.32,0A0.72,0.72 0 1,0 1.88,0"]},
          "legend": {"title": null, "orient": "none", "legendX": 154, "legendY": 15, "direction": "vertical", "padding": 5, "strokeColor": "#808080", "fillColor": "white", "labelFontSize": 17, "labelColor": "#1a1a1a", "labelOffset": 46, "rowPadding": 4, "symbolSize": 256, "symbolStrokeWidth": 1.5}}
      }
    },
    {
      "data": {"name": "pts"},
      "transform": [{"filter": "datum.n < 0"}],
      "mark": {"type": "point", "filled": false, "strokeWidth": 1.5, "shape": "M0.2,0A2.4,0.62 0 1,0 5,0A2.4,0.62 0 1,0 0.2,0"},
      "encoding": {
        "stroke": {"field": "k", "type": "nominal", "scale": {"domain": ["efficiency"], "range": ["#6cc86c"]},
          "legend": {"title": null, "orient": "none", "legendX": 154, "legendY": 15, "direction": "vertical", "padding": 5, "labelFontSize": 17, "labelExpr": "''", "labelOffset": 46, "rowPadding": 4, "symbolSize": 256, "symbolStrokeWidth": 1.5, "symbolType": "M0.2,0A2.4,0.62 0 1,0 5,0A2.4,0.62 0 1,0 0.2,0", "zindex": 1}}
      }
    },
    {
      "data": {"name": "pts"},
      "transform": [{"filter": "datum.n < 0"}],
      "mark": {"type": "point", "filled": false, "strokeWidth": 1.5, "color": "#d83a3a", "shape": "M1.5,0A1.1,0.3 0 1,0 3.7,0A1.1,0.3 0 1,0 1.5,0"},
      "encoding": {
        "strokeDash": {"field": "k", "type": "nominal", "scale": {"domain": ["efficiency."], "range": [[1, 0]]},
          "legend": {"title": null, "orient": "none", "legendX": 154, "legendY": 15, "direction": "vertical", "padding": 5, "labelFontSize": 17, "labelExpr": "''", "labelOffset": 46, "rowPadding": 4, "symbolSize": 256, "symbolStrokeWidth": 1.5, "symbolStrokeColor": "#d83a3a", "symbolType": "M1.5,0A1.1,0.3 0 1,0 3.7,0A1.1,0.3 0 1,0 1.5,0", "zindex": 1}}
      }
    }
  ]
}
